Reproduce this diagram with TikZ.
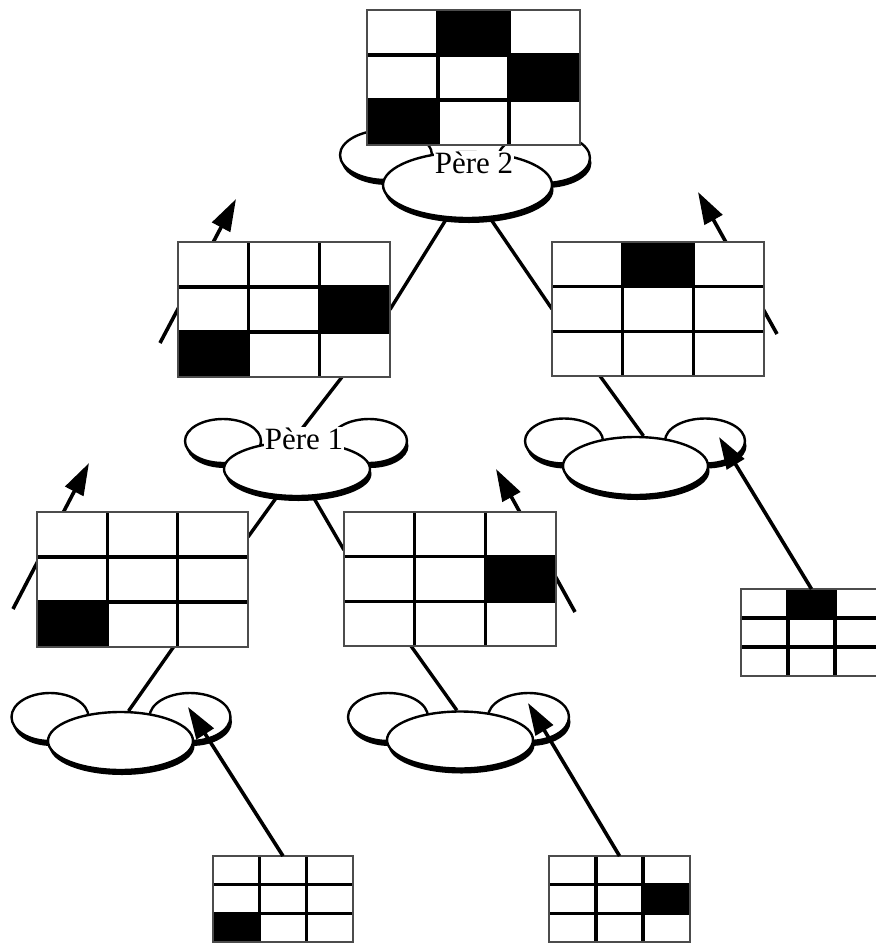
\documentclass[tikz,border=0pt]{standalone}
\usepackage{fontspec}
\setmainfont{Liberation Serif}
\usetikzlibrary{shapes.geometric,arrows.meta,shadows,backgrounds}

\tikzset{
  board/.style={fill=white, inner sep=0pt, outer sep=0pt},
  boardedge/.style={draw=black!70, line width=2pt},
  cell/.style={line width=3.4pt},
  puff/.style={ellipse, draw, line width=2.4pt, fill=white, inner sep=0pt,
    drop shadow={shadow xshift=1.5pt, shadow yshift=-5pt, fill=black, opacity=1}},
  tag/.style={fill=white, inner sep=1pt, font=\fontsize{31}{36}\selectfont},
  link/.style={line width=3.4pt},
  pointer/.style={line width=3.6pt, -{Triangle[length=32pt,width=20pt]}},
}

\begin{document}
\begin{tikzpicture}[x=1pt,y=-1pt]
\useasboundingbox (0,0) rectangle (876,943);
\clip (0,0) rectangle (876,943);

% free ends of the arrows
\coordinate (t1) at (160,343); \coordinate (h1) at (236,199);
\coordinate (t2) at (777,334); \coordinate (h2) at (698,192);
\coordinate (t3) at (13,609);  \coordinate (h3) at (89,463);
\coordinate (t4) at (575,612); \coordinate (h4) at (496,469);
\coordinate (k3) at (719,437);
\coordinate (k4) at (188,707);
\coordinate (k5) at (528,703);

% clouds
\node[puff, minimum width=92pt, minimum height=50pt] (p2l) at (386,155) {};
\node[puff, minimum width=92pt, minimum height=50pt] (p2r) at (544,158) {};
\node[puff, minimum width=169pt, minimum height=66pt] (p2) at (467.5,185) {};
\node[tag] (p2t) at (474,163) {Père 2};

\node[puff, minimum width=76pt, minimum height=44pt] (p1l) at (223,441) {};
\node[puff, minimum width=76pt, minimum height=44pt] (p1r) at (369,441) {};
\node[puff, minimum width=146pt, minimum height=54pt] (p1) at (297,469) {};
\node[tag] (p1t) at (304,439) {Père 1};

\node[puff, minimum width=78pt, minimum height=45pt] (c3l) at (564,441) {};
\node[puff, minimum width=80pt, minimum height=45pt] (c3r) at (705,441) {};
\node[puff, minimum width=145pt, minimum height=58pt] (c3) at (635.5,466) {};

\node[puff, minimum width=77pt, minimum height=48pt] (c4l) at (50,717) {};
\node[puff, minimum width=81pt, minimum height=48pt] (c4r) at (190,717) {};
\node[puff, minimum width=145pt, minimum height=58pt] (c4) at (120.5,741) {};

\node[puff, minimum width=80pt, minimum height=48pt] (c5l) at (388,717) {};
\node[puff, minimum width=81pt, minimum height=48pt] (c5r) at (528.5,717) {};
\node[puff, minimum width=146pt, minimum height=57pt] (c5) at (460,740) {};

% grids: name/x/y/width/height/black cells (row/col)
\foreach \g/\cx/\cy/\w/\h/\blk in {
    top/473.5/77.5/213/135/{0/1,1/2,2/0},
    gL/284/309.5/212/135/{1/2,2/0},
    gR/658/309/212/134/{0/1},
    hL/142.5/579.5/211/135/{2/0},
    hR/450/579/212/134/{1/2},
    sR/811.5/632.5/141/87/{0/1},
    sL/283/899/140/86/{2/0},
    sB/619.5/899/141/86/{1/2}}{
  \node[board, minimum width=\w pt, minimum height=\h pt] (\g) at (\cx,\cy) {};
  \foreach \r/\c in \blk
    \fill (\cx-\w/2+\c*\w/3, \cy-\h/2+\r*\h/3) rectangle ++(\w/3,\h/3);
  \foreach \k in {1,2} {
    \draw[cell] (\cx-\w/2+\k*\w/3, \cy-\h/2) -- ++(0,\h);
    \draw[cell] (\cx-\w/2, \cy-\h/2+\k*\h/3) -- ++(\w,0);
  }
  \draw[boardedge] (\g.north west) rectangle (\g.south east);
}

\begin{scope}[on background layer]
\draw[link] (p2) -- (gL.east);
\draw[link] (p2) -- (gR.west);
\draw[link] ([xshift=58pt]gL.south) -- (p1.99);
\draw[link] ([xshift=-58pt]gR.south) -- (c3.75);
\draw[link] (p1) -- ([yshift=-25pt]hL.north east);
\draw[link] (p1) -- ([yshift=-38pt]hR.north west);
\draw[link] ([xshift=31pt]hL.south) -- (c4.75);
\draw[link] ([xshift=-39pt]hR.south) -- (c5.96);

\draw[pointer] (t1) -- (h1);
\draw[pointer] (t2) -- (h2);
\draw[pointer] (t3) -- (h3);
\draw[pointer] (t4) -- (h4);
\end{scope}

\draw[pointer] (sR.north) -- (k3);
\draw[pointer] (sL.north) -- (k4);
\draw[pointer] (sB.north) -- (k5);
\end{tikzpicture}
\end{document}
